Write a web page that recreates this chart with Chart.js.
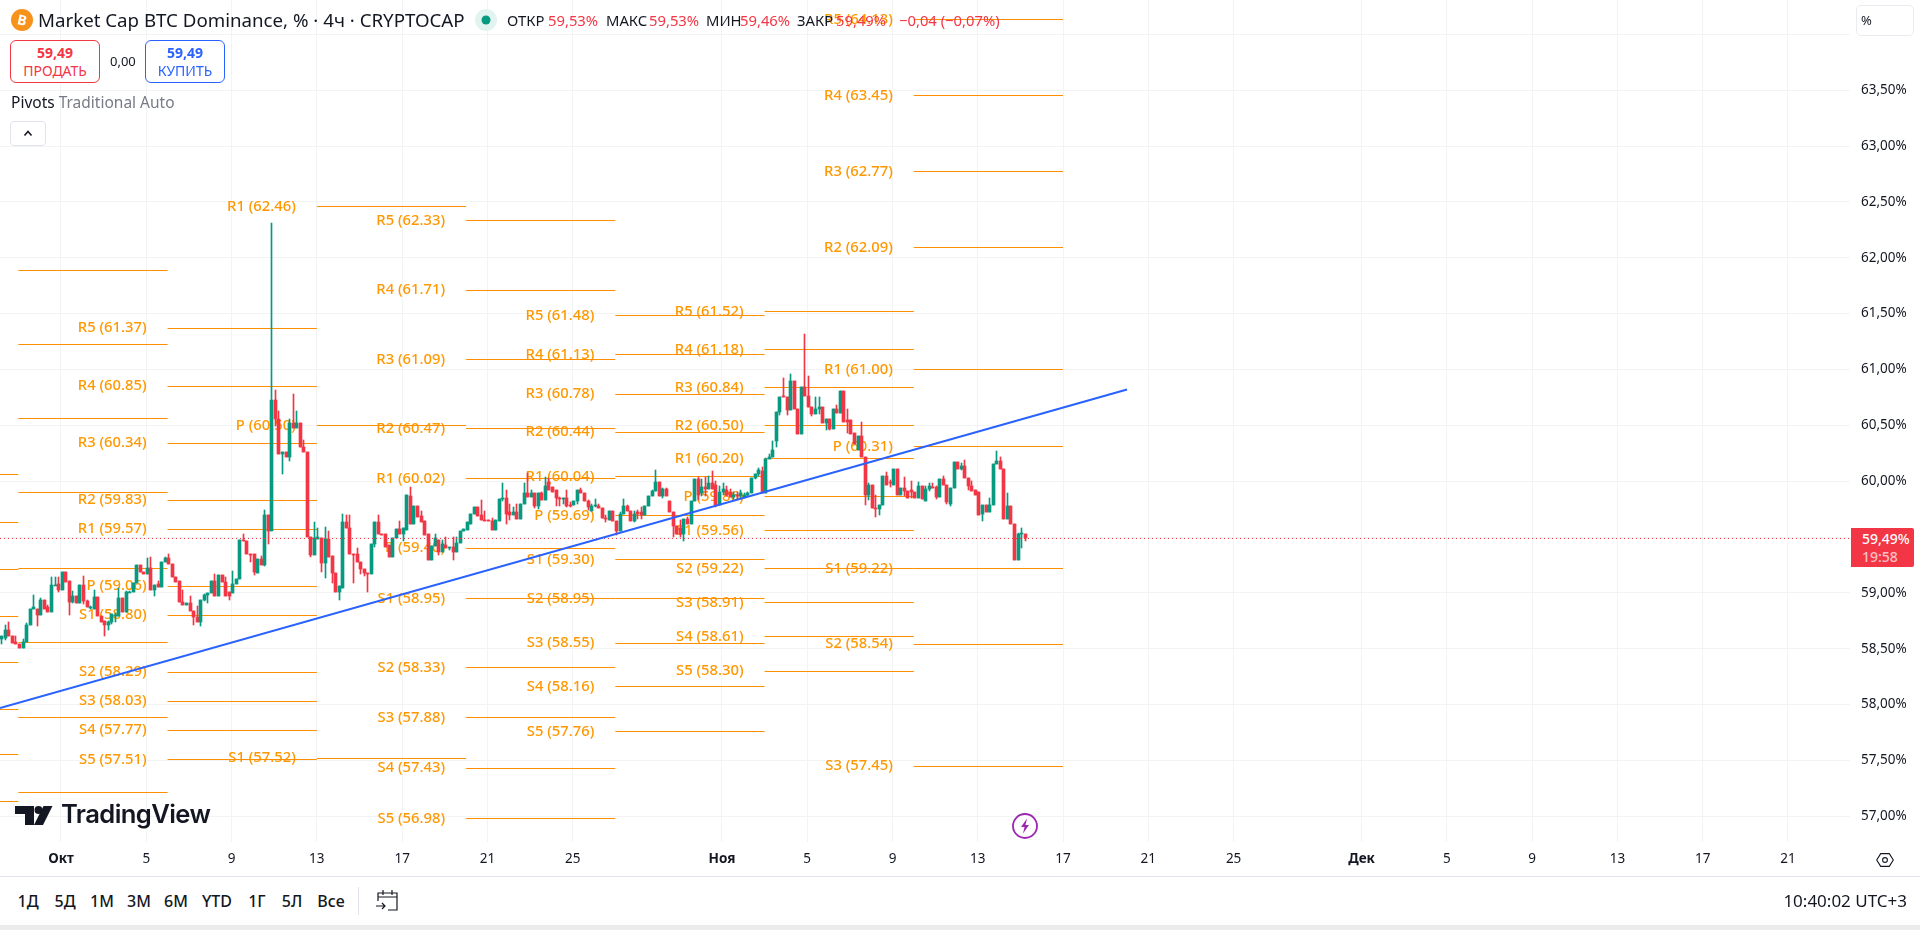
<!DOCTYPE html>
<html lang="ru">
<head>
<meta charset="utf-8">
<title>Market Cap BTC Dominance</title>
<script src="https://cdn.jsdelivr.net/npm/chart.js@4/dist/chart.umd.min.js"></script>
<style>
  html, body { margin: 0; padding: 0; background: #fff; width: 1920px; height: 930px; overflow: hidden; }
  body { font-family: "Noto Sans", sans-serif; color: #131722; position: relative; }
  #chart { position: absolute; left: 0; top: 0; }
  .abs { position: absolute; white-space: nowrap; }
  .ohlc { font-size: 14.8px; line-height: 20px; top: 10px; }
  .red { color: #f23645; }
  .trade { box-sizing: border-box; top: 40px; height: 43px; border-radius: 6px; border: 1px solid; text-align: center; font-size: 14px; line-height: 18px; padding-top: 3px; background: #fff; }
  .trade b { display: block; font-weight: 700; }
  .range { top: 890px; font-size: 16px; line-height: 22px; font-weight: 500; transform: translateX(-50%); }
</style>
</head>
<body>
<canvas id="chart" width="1920" height="876"></canvas>

<!-- symbol header -->
<svg class="abs" style="left:11px;top:9px" width="22" height="22" viewBox="0 0 22 22"><circle cx="11" cy="11" r="11" fill="#f7931a"/><text x="11" y="16" text-anchor="middle" fill="#fff" font-size="14" font-weight="700" font-family="Noto Sans" transform="rotate(12 11 11)">B</text></svg>
<div class="abs" style="left:38px;top:8px;font-size:18.7px;line-height:24px">Market Cap BTC Dominance, % · 4ч · CRYPTOCAP</div>
<svg class="abs" style="left:475px;top:9px" width="22" height="22" viewBox="0 0 22 22"><circle cx="11" cy="11" r="11" fill="#e3f3f0"/><circle cx="11" cy="11" r="4.5" fill="#089981"/></svg>
<div class="abs ohlc" style="left:507px">ОТКР</div><div class="abs ohlc red" style="left:548px">59,53%</div>
<div class="abs ohlc" style="left:606px">МАКС</div><div class="abs ohlc red" style="left:649px">59,53%</div>
<div class="abs ohlc" style="left:706px">МИН</div><div class="abs ohlc red" style="left:740px">59,46%</div>
<div class="abs ohlc" style="left:797px">ЗАКР</div><div class="abs ohlc red" style="left:836px">59,49%</div>
<div class="abs ohlc red" style="left:899px">−0,04 (−0,07%)</div>

<!-- sell / buy -->
<div class="abs trade red" style="left:10px;width:90px;border-color:#f23645"><b>59,49</b>ПРОДАТЬ</div>
<div class="abs" style="left:110px;top:52px;font-size:13px;line-height:18px">0,00</div>
<div class="abs trade" style="left:145px;width:80px;color:#2962ff;border-color:#2962ff"><b>59,49</b>КУПИТЬ</div>

<div class="abs" style="left:11px;top:92px;font-size:15.5px;line-height:20px">Pivots <span style="color:#787b86">Traditional Auto</span></div>
<div class="abs" style="left:10px;top:121px;width:36px;height:25px;box-sizing:border-box;border:1px solid #e0e3eb;border-radius:4px;background:#fff">
  <svg width="34" height="23" viewBox="0 0 34 23"><path d="M13.5 13.5 L17 9.5 L20.5 13.5" fill="none" stroke="#131722" stroke-width="1.5"/></svg>
</div>

<!-- logo and lightning badge on the pane -->
<svg class="abs" style="left:14px;top:804px" width="40" height="22" viewBox="0 0 40 22"><path d="M1 2 H20 V21 H11 V10 H1 Z" fill="#131722"/><circle cx="24.5" cy="6" r="4" fill="#131722"/><path d="M29.5 2 H38.5 L29 21 H20 Z" fill="#131722"/></svg>
<div class="abs" style="left:61px;top:796px;font-family:Inter,sans-serif;font-size:25.6px;line-height:36px;font-weight:600;letter-spacing:-0.6px;color:#131722">TradingView</div>
<svg class="abs" style="left:1011px;top:812px" width="28" height="28" viewBox="0 0 28 28"><circle cx="14" cy="14" r="12" fill="#fff" stroke="#9c27b0" stroke-width="1.8"/><path d="M16 6.5 L10 15 H13.5 L12 21.5 L18 13 H14.5 Z" fill="#9c27b0"/></svg>

<!-- price scale extras -->
<div class="abs" style="left:1856px;top:5px;width:58px;height:31px;box-sizing:border-box;border:1px solid #e9ebf0;border-radius:5px;font-size:13px;line-height:29px;padding-left:4px">%</div>
<div class="abs" style="left:1851px;top:528px;width:63px;height:39px;background:#f23645;border-radius:0 2px 2px 0;color:#fff;font-size:14px;line-height:18px;padding:2px 0 0 11px;box-sizing:border-box;font-weight:500">59,49%<br><span style="color:#fbc0c5">19:58</span></div>
<svg class="abs" style="left:1876px;top:853px" width="18" height="14" viewBox="0 0 18 14"><path d="M4.7 0.6 H13.3 L17.3 7 L13.3 13.4 H4.7 L0.7 7 Z" fill="none" stroke="#131722" stroke-width="1.1"/><circle cx="9" cy="7" r="2.4" fill="none" stroke="#131722" stroke-width="1.1"/></svg>

<!-- bottom toolbar -->
<div class="abs" style="left:0;top:876px;width:1920px;height:1px;background:#e0e3eb"></div>
<div class="abs range" style="left:28px">1Д</div>
<div class="abs range" style="left:65px">5Д</div>
<div class="abs range" style="left:102px">1М</div>
<div class="abs range" style="left:139px">3М</div>
<div class="abs range" style="left:176px">6М</div>
<div class="abs range" style="left:217px">YTD</div>
<div class="abs range" style="left:257px">1Г</div>
<div class="abs range" style="left:292px">5Л</div>
<div class="abs range" style="left:331px">Все</div>
<div class="abs" style="left:358px;top:887px;width:1px;height:28px;background:#e0e3eb"></div>
<svg class="abs" style="left:375px;top:888px" width="25" height="25" viewBox="0 0 25 25"><path d="M3 13 V5 H22 V22 H13 M3 9 H22 M8 2 V7 M17 2 V7 M1 18 H10 M7 15 L10 18 L7 21" fill="none" stroke="#131722" stroke-width="1.2"/></svg>
<div class="abs" style="right:13px;top:889px;font-size:17px;line-height:23px">10:40:02 UTC+3</div>
<div class="abs" style="left:0;top:925px;width:1920px;height:5px;background:#ebebeb"></div>

<script>
  // 4h candles, one value per bar, oldest first
  const firstBarDay = -2.78; // days from 1 Oct
  const barStepDays = 1 / 6;

  const opens = [
    58.59,58.60,58.67,58.61,58.56,58.54,58.51,58.56,58.71,58.86,
    58.86,58.80,58.94,58.87,58.83,59.07,59.08,59.03,59.19,59.11,
    58.92,58.97,58.91,59.07,58.93,58.87,58.86,58.96,58.79,58.75,
    58.71,58.74,58.79,58.79,58.95,58.83,59.01,59.01,59.09,59.25,
    59.19,59.17,59.22,59.03,59.08,59.05,59.28,59.31,59.26,59.14,
    59.11,58.92,58.89,58.91,58.84,58.78,58.74,58.94,58.98,59.00,
    59.11,58.97,59.16,59.10,59.01,59.00,59.08,59.12,59.47,59.46,
    59.35,59.35,59.18,59.30,59.25,59.70,59.55,60.73,60.56,60.24,
    60.26,60.22,60.52,60.48,60.52,60.31,60.26,59.50,59.34,59.48,
    59.49,59.27,59.48,59.33,59.18,59.01,59.04,59.63,59.58,59.35,
    59.35,59.28,59.21,59.18,59.17,59.44,59.63,59.53,59.53,59.43,
    59.32,59.49,59.57,59.53,59.56,59.87,59.62,59.78,59.69,59.64,
    59.53,59.29,59.42,59.47,59.37,59.43,59.40,59.41,59.37,59.45,
    59.55,59.56,59.62,59.71,59.77,59.70,59.65,59.65,59.64,59.56,
    59.64,59.84,59.85,59.72,59.70,59.72,59.66,59.80,59.89,59.86,
    59.89,59.78,59.89,59.83,59.99,59.95,59.92,59.85,59.84,59.85,
    59.79,59.79,59.82,59.92,59.89,59.82,59.73,59.78,59.78,59.76,
    59.67,59.65,59.73,59.64,59.55,59.71,59.78,59.73,59.64,59.72,
    59.72,59.70,59.78,59.87,59.91,59.99,59.87,59.93,59.82,59.72,
    59.60,59.58,59.53,59.66,59.62,59.82,60.02,59.89,59.95,59.93,
    59.98,59.97,59.79,59.90,59.92,59.90,59.86,59.88,59.87,59.86,
    59.88,59.89,60.03,60.06,60.09,59.89,60.20,60.22,60.36,60.62,
    60.76,60.75,60.64,60.90,60.65,60.42,60.84,60.76,60.66,60.60,
    60.65,60.66,60.52,60.56,60.47,60.65,60.61,60.81,60.55,60.55,
    60.43,60.28,60.40,60.22,59.88,59.97,59.76,59.75,59.79,60.05,
    59.99,59.97,60.11,59.88,59.94,59.91,59.92,59.90,59.85,59.96,
    59.82,59.93,59.95,59.95,59.86,60.02,59.97,59.80,59.94,60.17,
    60.11,60.14,60.03,59.96,59.92,59.90,59.71,59.79,59.72,59.79,
    60.15,60.18,60.11,59.66,59.78,59.62,59.29,59.53,59.53,
  ];

  const closes = [
    58.61,58.67,58.61,58.55,58.54,58.51,58.56,58.71,58.86,58.87,
    58.80,58.94,58.86,58.83,59.07,59.07,59.03,59.19,59.10,58.92,
    58.97,58.91,59.07,58.93,58.87,58.87,58.96,58.79,58.74,58.71,
    58.74,58.81,58.80,58.95,58.83,59.01,59.01,59.09,59.25,59.19,
    59.17,59.22,59.03,59.07,59.05,59.28,59.31,59.26,59.14,59.10,
    58.92,58.89,58.91,58.84,58.78,58.74,58.94,58.98,59.00,59.11,
    58.97,59.16,59.10,58.97,58.97,59.08,59.12,59.47,59.46,59.35,
    59.34,59.19,59.30,59.25,59.70,59.55,60.73,60.56,60.24,60.26,
    60.22,60.52,60.48,60.52,60.31,60.26,59.50,59.34,59.49,59.50,
    59.27,59.48,59.32,59.18,59.01,59.06,59.63,59.58,59.35,59.34,
    59.28,59.21,59.18,59.17,59.44,59.63,59.53,59.52,59.41,59.32,
    59.49,59.57,59.53,59.58,59.88,59.62,59.78,59.68,59.63,59.52,
    59.29,59.42,59.49,59.37,59.44,59.40,59.41,59.37,59.45,59.55,
    59.57,59.63,59.71,59.77,59.69,59.65,59.64,59.64,59.56,59.65,
    59.84,59.85,59.71,59.70,59.72,59.66,59.80,59.89,59.86,59.89,
    59.78,59.89,59.83,59.96,59.92,59.90,59.85,59.84,59.85,59.78,
    59.78,59.82,59.92,59.89,59.82,59.77,59.78,59.79,59.76,59.67,
    59.66,59.73,59.64,59.55,59.71,59.78,59.73,59.64,59.71,59.71,
    59.70,59.78,59.87,59.91,59.99,59.87,59.93,59.87,59.72,59.60,
    59.53,59.53,59.66,59.62,59.82,60.02,59.88,59.95,59.93,59.98,
    59.93,59.79,59.90,59.93,59.88,59.86,59.88,59.87,59.89,59.88,
    59.89,60.03,60.06,60.10,59.89,60.20,60.22,60.28,60.62,60.75,
    60.75,60.64,60.90,60.65,60.42,60.84,60.76,60.66,60.60,60.65,
    60.66,60.52,60.56,60.47,60.65,60.61,60.81,60.53,60.53,60.42,
    60.33,60.40,60.22,59.88,59.97,59.76,59.75,59.79,60.05,59.97,
    59.98,60.11,59.88,59.94,59.91,59.85,59.90,59.85,59.96,59.84,
    59.93,59.96,59.94,59.86,60.02,59.97,59.81,59.94,60.17,60.11,
    60.14,60.03,59.96,59.91,59.88,59.70,59.79,59.72,59.79,60.15,
    60.18,60.11,59.66,59.78,59.62,59.29,59.53,59.54,59.49,
  ];

  const highs = [
    58.61,58.71,58.74,58.61,58.61,58.54,58.59,58.73,58.86,58.98,
    58.86,58.95,58.94,58.89,59.14,59.14,59.14,59.19,59.19,59.11,
    59.02,58.97,59.07,59.15,58.94,58.88,59.03,58.96,58.79,58.75,
    58.75,58.81,58.82,59.04,58.95,59.02,59.02,59.09,59.25,59.25,
    59.19,59.31,59.32,59.07,59.11,59.28,59.32,59.35,59.26,59.14,
    59.11,59.03,58.91,58.97,58.84,58.88,58.94,58.99,59.00,59.11,
    59.17,59.16,59.16,59.14,59.01,59.20,59.12,59.47,59.53,59.46,
    59.35,59.35,59.30,59.33,59.74,59.70,62.31,60.82,60.63,60.26,
    60.26,60.56,60.78,60.63,60.52,60.37,60.26,59.50,59.63,59.58,
    59.49,59.59,59.55,59.33,59.18,59.06,59.71,59.70,59.70,59.35,
    59.40,59.28,59.21,59.18,59.44,59.63,59.70,59.53,59.53,59.43,
    59.49,59.57,59.64,59.58,59.88,59.95,59.78,59.78,59.73,59.64,
    59.53,59.42,59.53,59.47,59.47,59.50,59.41,59.50,59.50,59.55,
    59.57,59.63,59.71,59.77,59.77,59.83,59.73,59.65,59.67,59.65,
    59.84,59.98,59.92,59.80,59.77,59.80,59.80,59.98,60.07,59.92,
    59.89,59.89,59.90,60.04,60.03,59.95,59.92,59.86,59.85,59.92,
    59.81,59.82,59.92,59.94,59.89,59.83,59.80,59.84,59.80,59.76,
    59.70,59.73,59.73,59.64,59.72,59.84,59.79,59.73,59.73,59.74,
    59.77,59.78,59.87,59.92,60.10,59.99,59.94,59.94,59.82,59.72,
    59.60,59.65,59.66,59.68,59.82,60.02,60.04,60.02,60.04,60.05,
    60.09,60.00,59.96,59.98,59.96,59.93,59.90,59.90,59.92,59.89,
    59.90,60.03,60.06,60.12,60.13,60.21,60.24,60.36,60.62,60.75,
    60.92,60.75,60.96,60.90,60.65,60.84,61.32,60.94,60.66,60.75,
    60.75,60.66,60.56,60.56,60.65,60.68,60.81,60.81,60.65,60.55,
    60.43,60.40,60.53,60.22,59.98,59.97,59.88,59.79,60.05,60.08,
    60.01,60.11,60.11,59.94,60.04,59.91,60.00,59.90,59.99,59.96,
    59.96,59.98,59.98,59.96,60.02,60.05,59.97,59.94,60.17,60.17,
    60.16,60.19,60.03,60.00,59.92,59.90,59.79,59.79,59.85,60.15,
    60.27,60.22,60.11,59.89,59.78,59.62,59.54,59.58,59.53,
  ];

  const lows = [
    58.54,58.58,58.61,58.55,58.54,58.51,58.51,58.56,58.71,58.86,
    58.70,58.80,58.86,58.83,58.83,59.07,59.01,59.03,59.10,58.80,
    58.91,58.91,58.91,58.90,58.87,58.86,58.86,58.79,58.74,58.61,
    58.67,58.72,58.74,58.79,58.83,58.83,59.01,59.01,59.09,59.19,
    59.17,59.17,59.03,58.97,59.05,59.05,59.28,59.26,59.14,59.10,
    58.92,58.89,58.89,58.84,58.71,58.74,58.70,58.93,58.91,59.00,
    58.97,58.97,59.10,58.97,58.94,59.00,59.08,59.12,59.46,59.35,
    59.28,59.16,59.18,59.25,59.24,59.44,59.55,60.49,60.24,60.06,
    60.22,60.18,60.48,60.48,60.31,60.26,59.50,59.32,59.34,59.48,
    59.19,59.13,59.32,59.09,59.01,58.94,59.04,59.58,59.35,59.09,
    59.28,59.17,59.15,59.01,59.17,59.41,59.53,59.52,59.41,59.32,
    59.32,59.49,59.53,59.46,59.56,59.62,59.62,59.68,59.63,59.52,
    59.29,59.29,59.42,59.34,59.37,59.40,59.38,59.29,59.37,59.45,
    59.55,59.56,59.62,59.71,59.69,59.65,59.64,59.64,59.56,59.56,
    59.64,59.82,59.62,59.65,59.70,59.66,59.66,59.80,59.86,59.86,
    59.76,59.75,59.83,59.83,59.92,59.90,59.78,59.78,59.80,59.77,
    59.77,59.79,59.80,59.89,59.82,59.74,59.73,59.77,59.76,59.67,
    59.63,59.65,59.64,59.52,59.55,59.71,59.73,59.64,59.63,59.66,
    59.66,59.70,59.78,59.87,59.91,59.87,59.85,59.87,59.72,59.50,
    59.53,59.50,59.46,59.62,59.62,59.82,59.83,59.87,59.87,59.93,
    59.93,59.77,59.79,59.88,59.87,59.86,59.84,59.84,59.84,59.85,
    59.87,59.89,60.02,60.05,59.89,59.89,60.20,60.22,60.31,60.59,
    60.75,60.59,60.64,60.65,60.42,60.42,60.76,60.66,60.58,60.60,
    60.60,60.52,60.46,60.46,60.47,60.61,60.61,60.53,60.43,60.42,
    60.33,60.28,60.22,59.79,59.83,59.76,59.68,59.70,59.79,59.97,
    59.95,59.97,59.88,59.88,59.87,59.85,59.85,59.85,59.85,59.84,
    59.82,59.91,59.94,59.84,59.86,59.97,59.80,59.78,59.94,60.11,
    60.10,60.03,59.92,59.91,59.88,59.70,59.64,59.72,59.72,59.79,
    60.15,60.11,59.66,59.66,59.62,59.29,59.29,59.40,59.46,
  ];

  // weekly traditional pivots, R5 down to S5, null where the level is off the pane
  const levelNames = ['R5', 'R4', 'R3', 'R2', 'R1', 'P', 'S1', 'S2', 'S3', 'S4', 'S5'];
  const weekStarts = [-9, -2, 5, 12, 19, 26, 33, 40];
  const weekSep22 = [null, null, null, 60.06, 59.63, 59.21, 58.79, 58.38, 57.96, 57.55, 57.13];
  const weekSep29 = [null, null, null, 61.89, 61.22, 60.56, 59.90, 59.22, 58.56, 57.88, 57.21];
  const weekOct6 = [61.37, 60.85, 60.34, 59.83, 59.57, 59.06, 58.80, 58.29, 58.03, 57.77, 57.51];
  const weekOct13 = [null, null, null, null, 62.46, 60.50, 57.52, null, null, null, null];
  const weekOct20 = [62.33, 61.71, 61.09, 60.47, 60.02, 59.40, 58.95, 58.33, 57.88, 57.43, 56.98];
  const weekOct27 = [61.48, 61.13, 60.78, 60.44, 60.04, 59.69, 59.30, 58.95, 58.55, 58.16, 57.76];
  const weekNov3 = [61.52, 61.18, 60.84, 60.50, 60.20, 59.86, 59.56, 59.22, 58.91, 58.61, 58.30];
  const weekNov10 = [64.13, 63.45, 62.77, 62.09, 61.00, 60.31, 59.22, 58.54, 57.45, null, null];
  const weekLevels = [weekSep22, weekSep29, weekOct6, weekOct13, weekOct20, weekOct27, weekNov3, weekNov10];

  const lastPrice = 59.49;

  // hand drawn trend line
  const trendDays = [-2.861, 50];
  const trendValues = [57.97, 60.82];

  const xMin = -2.861;
  const xMax = 83.91;
  const yMin = 56.77;
  const yMax = 64.307;

  const xTickDays = [0, 4, 8, 12, 16, 20, 24, 31, 35, 39, 43, 47, 51, 55, 61, 65, 69, 73, 77, 81];
  const xTickLabels = ['Окт', '5', '9', '13', '17', '21', '25', 'Ноя', '5', '9', '13', '17', '21', '25', 'Дек', '5', '9', '13', '17', '21'];
  const monthDays = [0, 31, 61];
  const yTicks = [57, 57.5, 58, 58.5, 59, 59.5, 60, 60.5, 61, 61.5, 62, 62.5, 63, 63.5, 64];

  const UP = '#089981';
  const DOWN = '#f23645';
  const ORANGE = '#ff9800';
  const FONT = '"Noto Sans", sans-serif';

  function barDay(i) {
    return firstBarDay + i * barStepDays;
  }

  function candleColors() {
    return closes.map((close, i) => (close >= opens[i] ? UP : DOWN));
  }

  function buildPivotPoints() {
    const points = [];
    weekLevels.forEach((levels, w) => {
      levels.forEach((value) => {
        if (value === null) return;
        points.push({ x: weekStarts[w], y: value });
        points.push({ x: weekStarts[w] + 7, y: value });
        points.push({ x: weekStarts[w] + 7, y: null });
      });
    });
    return points;
  }

  // pivot captions sit left of their segment, behind the candles
  const pivotLabels = {
    id: 'pivotLabels',
    beforeDatasetsDraw(chart) {
      const { ctx, scales } = chart;
      ctx.save();
      ctx.font = '500 14.8px ' + FONT;
      ctx.fillStyle = ORANGE;
      ctx.textAlign = 'right';
      ctx.textBaseline = 'middle';
      weekLevels.forEach((levels, w) => {
        const right = scales.x.getPixelForValue(weekStarts[w]) - 21;
        if (right < 20) return;
        levels.forEach((value, n) => {
          if (value === null) return;
          ctx.fillText(`${levelNames[n]} (${value.toFixed(2)})`, right, scales.y.getPixelForValue(value));
        });
      });
      ctx.restore();
    },
  };

  // keep candles and horizontal levels on whole pixels
  const crispMarks = {
    id: 'crispMarks',
    beforeDatasetsDraw(chart) {
      chart.data.datasets.forEach((dataset, index) => {
        const meta = chart.getDatasetMeta(index);
        if (dataset.snap === 'bar') {
          meta.data.forEach((el) => {
            el.x = Math.floor(el.x) + 0.5;
            el.y = Math.round(el.y);
            el.base = Math.round(el.base);
            if (el.y === el.base) el.base = el.y + 1;
          });
        } else if (dataset.snap === 'line') {
          meta.data.forEach((el) => {
            if (!el.skip) el.y = Math.floor(el.y) + 0.5;
          });
        }
      });
    },
  };

  const colors = candleColors();

  new Chart(document.getElementById('chart'), {
    type: 'bar',
    data: {
      datasets: [
        {
          type: 'line',
          label: 'trend',
          data: trendDays.map((day, i) => ({ x: day, y: trendValues[i] })),
          borderColor: '#2962ff',
          borderWidth: 2,
          pointRadius: 0,
          order: 0,
        },
        {
          type: 'line',
          label: 'last',
          snap: 'line',
          data: [{ x: xMin, y: lastPrice }, { x: xMax, y: lastPrice }],
          borderColor: DOWN,
          borderWidth: 1,
          borderDash: [1, 3],
          pointRadius: 0,
          order: 1,
        },
        {
          label: 'body',
          snap: 'bar',
          data: opens.map((open, i) => ({ x: barDay(i), y: [open, closes[i]] })),
          backgroundColor: colors,
          barThickness: 3,
          grouped: false,
          order: 2,
        },
        {
          label: 'wick',
          snap: 'bar',
          data: highs.map((high, i) => ({ x: barDay(i), y: [lows[i], high] })),
          backgroundColor: colors,
          barThickness: 1,
          grouped: false,
          order: 3,
        },
        {
          type: 'line',
          label: 'pivots',
          snap: 'line',
          data: buildPivotPoints(),
          borderColor: '#ff8f00',
          borderWidth: 1,
          pointRadius: 0,
          spanGaps: false,
          order: 4,
        },
      ],
    },
    options: {
      responsive: false,
      animation: false,
      events: [],
      layout: { padding: 0 },
      plugins: { legend: { display: false }, tooltip: { enabled: false } },
      scales: {
        x: {
          type: 'linear',
          min: xMin,
          max: xMax,
          offset: false,
          border: { display: false },
          grid: { color: '#f2f3f5', offset: false, drawTicks: false },
          afterBuildTicks(scale) {
            scale.ticks = xTickDays.map((value) => ({ value }));
          },
          afterFit(scale) {
            scale.height = 34;
            scale.paddingLeft = 0;
            scale.paddingRight = 0;
          },
          ticks: {
            autoSkip: false,
            maxRotation: 0,
            padding: 9,
            color: '#131722',
            font: (ctx) => ({
              family: FONT,
              size: 13.5,
              weight: ctx.tick && monthDays.includes(ctx.tick.value) ? '700' : '400',
            }),
            callback(value) {
              return xTickLabels[xTickDays.indexOf(value)];
            },
          },
        },
        y: {
          type: 'linear',
          position: 'right',
          min: yMin,
          max: yMax,
          border: { display: false },
          grid: { color: '#f2f3f5', drawTicks: false },
          afterBuildTicks(scale) {
            scale.ticks = yTicks.map((value) => ({ value }));
          },
          afterFit(scale) {
            scale.width = 70;
            scale.paddingTop = 0;
            scale.paddingBottom = 0;
          },
          ticks: {
            padding: 11,
            color: '#131722',
            font: { family: FONT, size: 13.5 },
            callback(value) {
              if (value === 64) return '';
              return value.toFixed(2).replace('.', ',') + '%';
            },
          },
        },
      },
    },
    plugins: [pivotLabels, crispMarks],
  });
</script>
</body>
</html>
